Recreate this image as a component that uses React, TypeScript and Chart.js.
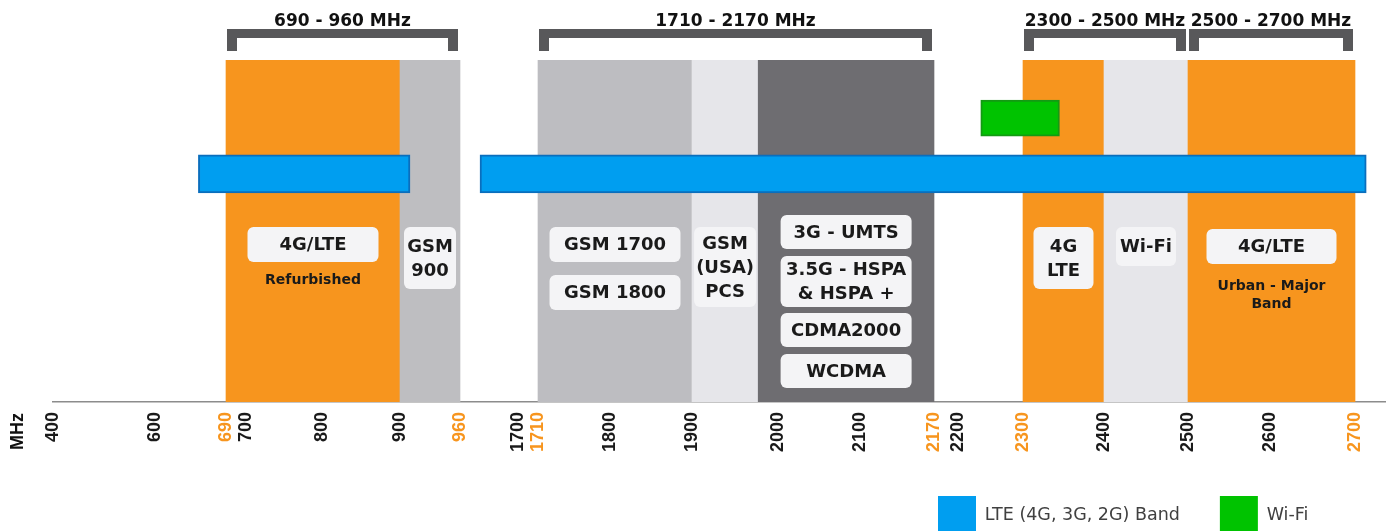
import React, { useEffect, useRef } from 'react';
import { Chart, registerables, LinearScale } from 'chart.js';

// ---------------- data ----------------
const TICK_VALUES = [400, 600, 690, 700, 800, 900, 960, 1700, 1710, 1800, 1900, 2000, 2100, 2170, 2200, 2300, 2400, 2500, 2600, 2700];
const HIGHLIGHTED_TICKS = [690, 960, 1710, 2170, 2300, 2700];

const BAND_STARTS = [690, 900, 1710, 1900, 1977, 2300, 2400, 2500];
const BAND_ENDS = [900, 960, 1900, 1977, 2170, 2400, 2500, 2700];
const BAND_COLORS = ['#f7951e', '#bebec1', '#bdbdc1', '#e6e6ea', '#6e6d71', '#f7951e', '#e6e6ea', '#f7951e'];

const LTE_STARTS = [655, 1690];
const LTE_ENDS = [910, 2715];
const WIFI_STARTS = [2235];
const WIFI_ENDS = [2345];

const GROUP_STARTS = [690, 1710, 2300, 2500];
const GROUP_ENDS = [960, 2170, 2500, 2700];
const GROUP_LABELS = ['690 - 960 MHz', '1710 - 2170 MHz', '2300 - 2500 MHz', '2500 - 2700 MHz'];

const SERIES_LABELS = ['LTE (4G, 3G, 2G) Band', 'Wi-Fi'];
const AXIS_UNIT = 'MHz';

const TAG_BANDS = [0, 1, 2, 2, 3, 4, 4, 4, 4, 5, 6, 7];
const TAG_LINES = [
  ['4G/LTE'], ['GSM', '900'], ['GSM 1700'], ['GSM 1800'], ['GSM', '(USA)', 'PCS'],
  ['3G - UMTS'], ['3.5G - HSPA', '& HSPA +'], ['CDMA2000'], ['WCDMA'],
  ['4G', 'LTE'], ['Wi-Fi'], ['4G/LTE'],
];
const CAPTION_BANDS = [0, 7];
const CAPTION_LINES = [['Refurbished'], ['Urban - Major', 'Band']];

// ---------------- axis definition (broken / piecewise MHz axis) ----------------
// [MHz, relative axis position]
const AXIS_KNOTS = [
  [400, 0], [600, 102], [690, 173], [700, 193], [800, 269], [900, 347], [960, 407],
  [1690, 427], [1700, 465], [1710, 485], [1800, 557], [1900, 639], [2000, 725], [2100, 807],
  [2170, 881], [2200, 905], [2300, 970], [2400, 1051], [2500, 1135], [2600, 1217], [2700, 1302], [2740, 1332],
];

function toUnit(v: number): number {
  const k = AXIS_KNOTS;
  let i = 0;
  while (i < k.length - 2 && v > k[i + 1][0]) i++;
  const [a, ua] = k[i];
  const [b, ub] = k[i + 1];
  return ua + ((v - a) / (b - a)) * (ub - ua);
}
function fromUnit(u: number): number {
  const k = AXIS_KNOTS;
  let i = 0;
  while (i < k.length - 2 && u > k[i + 1][1]) i++;
  const [a, ua] = k[i];
  const [b, ub] = k[i + 1];
  return a + ((u - ua) / (ub - ua)) * (b - a);
}

class BrokenScale extends LinearScale {
  static id = 'broken';
  static defaults = {};
  buildTicks() {
    return TICK_VALUES.map((value) => ({ value }));
  }
  getPixelForValue(value: any) {
    if (value === null || value === undefined || isNaN(value)) return NaN;
    const u0 = toUnit(this.min);
    const u1 = toUnit(this.max);
    return this.getPixelForDecimal((toUnit(value) - u0) / (u1 - u0));
  }
  getValueForPixel(pixel: number) {
    const u0 = toUnit(this.min);
    const u1 = toUnit(this.max);
    return fromUnit(u0 + this.getDecimalForPixel(pixel) * (u1 - u0));
  }
}

Chart.register(...registerables, BrokenScale);

// ---------------- styles / layout ----------------
const ORANGE = '#f7951e';
const ROW_WIFI = 83;
const ROW_LTE = 66.7;
const CANVAS_H = 544;
const PLOT_BOTTOM = 402;
const LEGEND_LEFT = 938;
const LEGEND_PAD = 40;
const LEGEND_BOX = 38;
const X_AXIS_H = CANVAS_H - PLOT_BOTTOM - (LEGEND_BOX + LEGEND_PAD + 10);
// [top offset from plot top, height, width]
const TAG_BOXES = [
  [167, 35, 131], [167, 62, 52], [167, 35, 131], [215, 35, 131], [167, 80, 62],
  [155, 34, 131], [196, 51, 131], [253, 34, 131], [294, 34, 131],
  [167, 62, 60], [167, 39, 60], [169, 35, 130],
];
const CAPTION_TOPS = [220, 226];

const overlayPlugin = {
  id: 'overlay',
  afterLayout(chart: any) {
    const lg = chart.legend;
    if (lg) lg.left = LEGEND_LEFT - LEGEND_PAD;
  },
  afterDatasetsDraw(chart: any) {
    const { ctx, chartArea } = chart;
    const xs = chart.scales.x;
    const px = (v: number) => xs.getPixelForValue(v);
    ctx.save();

    // range brackets
    GROUP_STARTS.forEach((s, i) => {
      const x1 = Math.round(px(s)) + 1;
      const x2 = Math.round(px(GROUP_ENDS[i])) - 2;
      const top = chartArea.top - 31;
      ctx.fillStyle = '#58585a';
      ctx.fillRect(x1, top, x2 - x1, 9);
      ctx.fillRect(x1, top, 10, 22);
      ctx.fillRect(x2 - 10, top, 10, 22);
      ctx.fillStyle = '#111111';
      ctx.font = 'bold 17px "DejaVu Sans"';
      ctx.textAlign = 'center';
      ctx.textBaseline = 'alphabetic';
      ctx.fillText(GROUP_LABELS[i], (x1 + x2) / 2, top - 3);
    });

    // tags
    TAG_BANDS.forEach((b, i) => {
      const cx = (px(BAND_STARTS[b]) + px(BAND_ENDS[b])) / 2;
      const [t, h, w] = TAG_BOXES[i];
      const y = chartArea.top + t;
      ctx.fillStyle = '#f4f4f6';
      ctx.beginPath();
      ctx.roundRect(cx - w / 2, y, w, h, 6);
      ctx.fill();
      ctx.fillStyle = '#1a1a1a';
      ctx.font = 'bold 18px "DejaVu Sans"';
      ctx.textAlign = 'center';
      ctx.textBaseline = 'middle';
      const lines = TAG_LINES[i];
      const n = lines.length;
      lines.forEach((l, k) => ctx.fillText(l, cx, y + h / 2 + (k - (n - 1) / 2) * 24 + 1));
    });

    // captions
    CAPTION_BANDS.forEach((b, i) => {
      const cx = (px(BAND_STARTS[b]) + px(BAND_ENDS[b])) / 2;
      ctx.fillStyle = '#1a1a1a';
      ctx.font = 'bold 14px "DejaVu Sans"';
      ctx.textAlign = 'center';
      ctx.textBaseline = 'middle';
      CAPTION_LINES[i].forEach((l, k) => ctx.fillText(l, cx, chartArea.top + CAPTION_TOPS[i] + k * 18));
    });

    // axis unit
    ctx.translate(chartArea.left - 35, chartArea.bottom + 11);
    ctx.rotate(-Math.PI / 2);
    ctx.fillStyle = '#111111';
    ctx.font = 'bold 18px "Liberation Sans"';
    ctx.textAlign = 'right';
    ctx.textBaseline = 'middle';
    ctx.fillText(AXIS_UNIT, 0, 0);
    ctx.restore();
  },
};

export default function App() {
  const canvasRef = useRef<HTMLCanvasElement | null>(null);

  useEffect(() => {
    document.body.style.margin = '0';
    const canvas = canvasRef.current;
    if (!canvas) return;
    Chart.defaults.font.family = '"DejaVu Sans"';

    const chart = new Chart(canvas, {
      type: 'bar',
      data: {
        datasets: [
          {
            label: SERIES_LABELS[0],
            data: LTE_STARTS.map((s, i) => ({ x: [s, LTE_ENDS[i]], y: ROW_LTE })),
            backgroundColor: '#009ef0',
            borderColor: '#0a6ebd',
            borderWidth: 2,
            borderSkipped: false,
            yAxisID: 'yRow',
            grouped: false,
            barThickness: 38,
            order: 1,
          } as any,
          {
            label: SERIES_LABELS[1],
            data: WIFI_STARTS.map((s, i) => ({ x: [s, WIFI_ENDS[i]], y: ROW_WIFI })),
            backgroundColor: '#00c300',
            borderColor: '#139a13',
            borderWidth: 2,
            borderSkipped: false,
            yAxisID: 'yRow',
            grouped: false,
            barThickness: 36,
            order: 0,
          } as any,
          {
            label: 'bands',
            data: BAND_STARTS.map((s, i) => ({ x: [s, BAND_ENDS[i]], y: 'all' })),
            backgroundColor: BAND_COLORS,
            borderWidth: 0,
            yAxisID: 'yBand',
            grouped: false,
            barPercentage: 1,
            categoryPercentage: 1,
            order: 5,
          } as any,
        ],
      },
      options: {
        indexAxis: 'y',
        animation: false,
        responsive: true,
        maintainAspectRatio: false,
        events: [],
        layout: { padding: { top: 60, left: 53, right: 3, bottom: 0 } },
        plugins: {
          tooltip: { enabled: false },
          legend: {
            position: 'bottom',
            align: 'start',
            labels: {
              boxWidth: LEGEND_BOX,
              boxHeight: LEGEND_BOX,
              padding: LEGEND_PAD,
              color: '#404040',
              font: { family: '"DejaVu Sans"', size: 17.5, weight: 'normal' },
              filter: (item: any) => item.text !== 'bands',
              sort: (a: any, b: any) => a.datasetIndex - b.datasetIndex,
              generateLabels: (c: any) =>
                (Chart.defaults.plugins.legend.labels.generateLabels as any)(c).map((l: any) => ({
                  ...l,
                  lineWidth: 0,
                  strokeStyle: 'rgba(0,0,0,0)',
                })),
            },
          },
        },
        scales: {
          x: {
            type: 'broken' as any,
            position: 'bottom',
            min: 400,
            max: 2740,
            beginAtZero: false,
            grid: { display: false, drawTicks: false },
            border: { display: true, color: '#8c8c8c', width: 1.5 },
            afterFit: (s: any) => {
              s.height = X_AXIS_H;
            },
            ticks: {
              autoSkip: false,
              maxRotation: 90,
              minRotation: 90,
              padding: 10,
              font: { family: '"Liberation Sans"', size: 18, weight: 'bold' },
              color: (c: any) => (HIGHLIGHTED_TICKS.includes(c.tick?.value) ? ORANGE : '#1a1a1a'),
              callback: (v: any) => String(v),
            },
          } as any,
          yBand: {
            type: 'category',
            labels: ['all'],
            offset: true,
            display: false,
          },
          yRow: {
            type: 'linear',
            min: 0,
            max: 100,
            offset: false,
            display: false,
          },
        },
      } as any,
      plugins: [overlayPlugin],
    });

    return () => chart.destroy();
  }, []);

  return (
    <div style={{ width: 1388, height: 531, overflow: 'hidden', position: 'relative' }}>
      <div style={{ width: 1388, height: CANVAS_H, position: 'relative' }}>
        <canvas ref={canvasRef} />
      </div>
    </div>
  );
}
